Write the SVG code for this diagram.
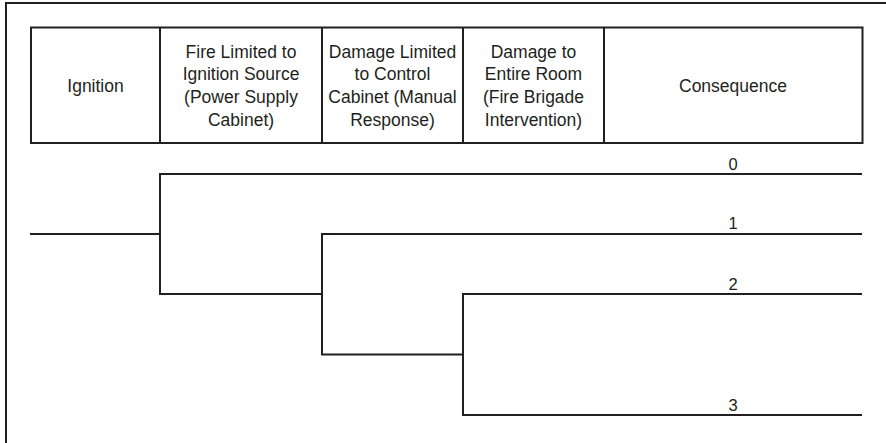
<svg xmlns="http://www.w3.org/2000/svg" width="886" height="443" viewBox="0 0 886 443">
<style>
.ln{fill:none;stroke:#231f20;stroke-width:2;stroke-linecap:butt}
.t{font-family:"Liberation Sans",Arial,sans-serif;font-size:17.5px;fill:#231f20;text-anchor:middle}
.n{font-family:"Liberation Sans",Arial,sans-serif;font-size:16.5px;fill:#231f20;text-anchor:middle}
</style>
<rect x="0" y="0" width="886" height="443" fill="#ffffff"/>
<g id="frame"><path class="ln" d="M6,443 V3 H886"/></g>
<g id="header">
<rect class="ln" x="31" y="27.5" width="831.5" height="115.5"/>
<path class="ln" d="M160,27.5 V143 M322,27.5 V143 M463,27.5 V143 M604,27.5 V143"/>
</g>
<g id="col-ignition"><text class="t" x="95.5" y="91.5">Ignition</text></g>
<g id="col-fire-limited"><text class="t" x="241" y="57.5">Fire Limited to</text><text class="t" x="241" y="80.2">Ignition Source</text><text class="t" x="241" y="102.9">(Power Supply</text><text class="t" x="241" y="125.6">Cabinet)</text></g>
<g id="col-damage-limited"><text class="t" x="392.5" y="57.5">Damage Limited</text><text class="t" x="392.5" y="80.2">to Control</text><text class="t" x="392.5" y="102.9">Cabinet (Manual</text><text class="t" x="392.5" y="125.6">Response)</text></g>
<g id="col-entire-room"><text class="t" x="533.5" y="57.5">Damage to</text><text class="t" x="533.5" y="80.2">Entire Room</text><text class="t" x="533.5" y="102.9">(Fire Brigade</text><text class="t" x="533.5" y="125.6">Intervention)</text></g>
<g id="col-consequence"><text class="t" x="733" y="91.5">Consequence</text></g>
<g id="connectors">
<path class="ln" d="M30,234 H160"/>
<path class="ln" d="M862,174 H160 V294 H322"/>
<path class="ln" d="M862,234 H322 V354.5 H463"/>
<path class="ln" d="M862,294 H463 V415 H862"/>
</g>
<g id="outcome-0"><text class="n" x="733" y="169.5">0</text></g>
<g id="outcome-1"><text class="n" x="733" y="229">1</text></g>
<g id="outcome-2"><text class="n" x="733" y="290">2</text></g>
<g id="outcome-3"><text class="n" x="733" y="410.5">3</text></g>
</svg>
